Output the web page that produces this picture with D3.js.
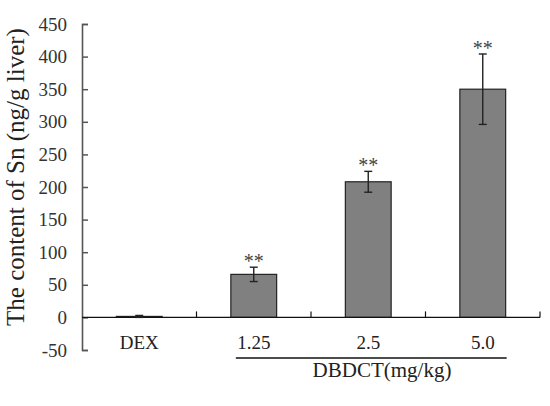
<!DOCTYPE html>
<html>
<head>
<meta charset="utf-8">
<script src="https://cdn.jsdelivr.net/npm/d3@7"></script>
<style>
html,body{margin:0;padding:0;background:#fff;}
svg{display:block;}
text{font-family:"Liberation Serif","Times New Roman",serif;}
</style>
</head>
<body>
<script>
const categories = ["DEX", "1.25", "2.5", "5.0"];
const means = [1.5, 66, 208, 350];
const errors = [1.5, 11, 16, 54];
const marks = ["", "**", "**", "**"];
const yTicks = [-50, 0, 50, 100, 150, 200, 250, 300, 350, 400, 450];
const yTitle = "The content of Sn (ng/g liver)";
const groupLabel = "DBDCT(mg/kg)";

const W = 550, H = 406;
const svg = d3.select("body").append("svg").attr("width", W).attr("height", H);

const y = d3.scaleLinear().domain([-50, 450]).range([350, 24]);
const x = d3.scaleBand().domain(categories).range([82, 540]).paddingInner(0.6).paddingOuter(0.3);

// Y axis
const yAxis = d3.axisLeft(y).tickValues(yTicks).tickSize(-6).tickPadding(15).tickFormat(d => String(d));
const gy = svg.append("g").attr("transform", "translate(82,0)").call(yAxis);
gy.select(".domain").attr("stroke", "#555").attr("stroke-width", 1.6);
gy.selectAll(".tick line").attr("stroke", "#555").attr("stroke-width", 1.5);
gy.selectAll(".tick text").attr("fill", "#333").style("font-size", "19px").style("font-family", "Liberation Serif");

// Bars
svg.selectAll("rect.bar").data(categories).enter().append("rect")
  .attr("class", "bar")
  .attr("x", d => x(d))
  .attr("width", x.bandwidth())
  .attr("y", (d, i) => y(Math.max(0, means[i])))
  .attr("height", (d, i) => Math.abs(y(0) - y(means[i])))
  .attr("fill", "#808080").attr("stroke", "#222").attr("stroke-width", 1.2);

// X axis line at zero
const zeroY = y(0);
svg.append("line").attr("x1", 82).attr("x2", 540).attr("y1", zeroY).attr("y2", zeroY)
  .attr("stroke", "#111").attr("stroke-width", 1.3);
// Category boundary ticks
const bounds = categories.map(c => x(c) + x.bandwidth() + x.step() * x.paddingInner() / 2);
bounds[bounds.length - 1] = x.range()[1];
svg.selectAll("line.xt").data(bounds).enter().append("line").attr("class", "xt")
  .attr("x1", d => d).attr("x2", d => d).attr("y1", zeroY).attr("y2", zeroY - 6)
  .attr("stroke", "#111").attr("stroke-width", 1.2);

// Error bars
const cx = c => x(c) + x.bandwidth() / 2;
const eb = svg.append("g").attr("stroke", "#222").attr("stroke-width", 1.4);
categories.forEach((c, i) => {
  const top = y(means[i] + errors[i]), bot = y(means[i] - errors[i]);
  eb.append("line").attr("x1", cx(c)).attr("x2", cx(c)).attr("y1", top).attr("y2", bot);
  eb.append("line").attr("x1", cx(c) - 4).attr("x2", cx(c) + 4).attr("y1", top).attr("y2", top);
  eb.append("line").attr("x1", cx(c) - 4).attr("x2", cx(c) + 4).attr("y1", bot).attr("y2", bot);
});

// Significance marks
svg.selectAll("text.sig").data(categories).enter().append("text").attr("class", "sig")
  .attr("x", d => cx(d))
  .attr("y", (d, i) => y(means[i] + errors[i]) + 1)
  .attr("text-anchor", "middle")
  .attr("fill", "#444")
  .style("font-size", "20px")
  .text((d, i) => marks[i]);

// Category labels
svg.selectAll("text.cat").data(categories).enter().append("text").attr("class", "cat")
  .attr("x", d => cx(d))
  .attr("y", 349)
  .attr("text-anchor", "middle")
  .attr("fill", "#222")
  .style("font-size", "19px")
  .text(d => d);

// Group underline
svg.append("line").attr("x1", x("1.25") + 5).attr("x2", x("5.0") + x.bandwidth() + 1)
  .attr("y1", 358).attr("y2", 358).attr("stroke", "#111").attr("stroke-width", 1.3);
svg.append("text")
  .attr("x", 382)
  .attr("y", 377)
  .attr("text-anchor", "middle")
  .attr("fill", "#222")
  .style("font-size", "21px")
  .text(groupLabel);

// Y title
svg.append("text")
  .attr("transform", `translate(24,177) rotate(-90)`)
  .attr("text-anchor", "middle")
  .attr("fill", "#222")
  .style("font-size", "25px")
  .text(yTitle);
</script>
</body>
</html>
